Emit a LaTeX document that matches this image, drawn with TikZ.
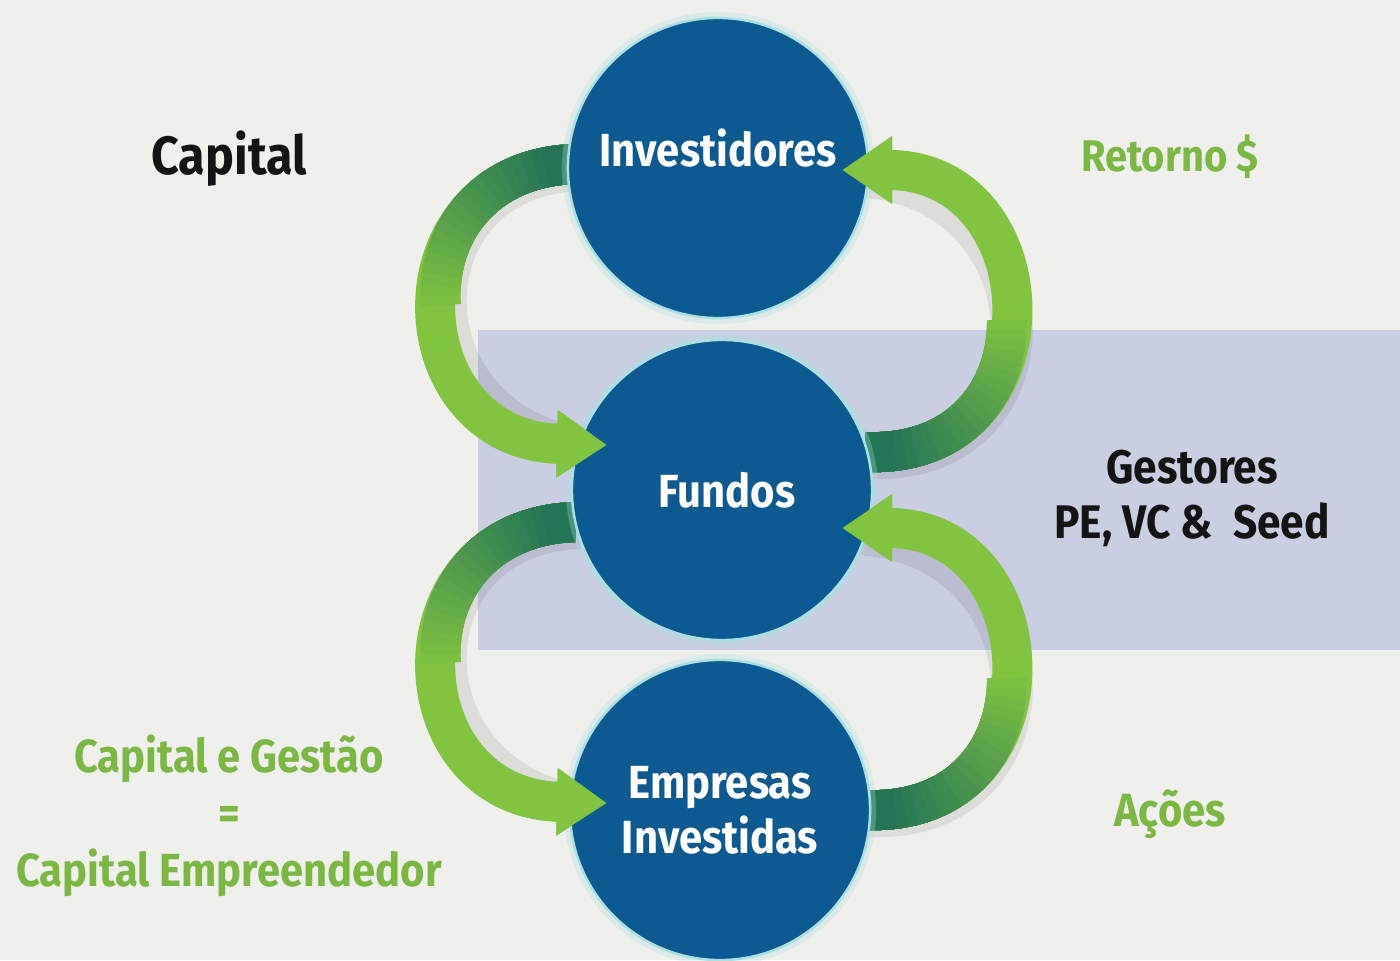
\documentclass[tikz,border=0pt]{standalone}
\usepackage{fontspec}
\setmainfont{Fira Sans}[FakeStretch=0.9]
\usetikzlibrary{arrows.meta,calc}

\pgfdeclarelayer{fundo}
\pgfdeclarelayer{setas}
\pgfdeclarelayer{pontas}
\pgfsetlayers{fundo,setas,main,pontas}

\definecolor{azul}{RGB}{12,90,145}
\definecolor{brilho}{RGB}{170,224,226}
\definecolor{lilas}{RGB}{202,206,226}
\definecolor{papel}{RGB}{239,239,236}
\definecolor{verdeclaro}{RGB}{128,196,64}
\definecolor{verdeescuro}{RGB}{36,116,86}
\definecolor{verdetexto}{RGB}{122,184,66}

\begin{document}
\begin{tikzpicture}
		[
		x=0.01cm, y=0.01cm, >={Triangle[width=0.64cm,length=0.5cm]},
		%Voreinstellungen
		bolha/.style={circle, fill=azul, draw=brilho, line width=0.025cm, minimum size=3.0cm, inner sep=0pt, text=white, align=center, font=\fontsize{13.2}{15.6}\selectfont\bfseries, preaction={draw=brilho, line width=0.12cm, opacity=0.3}},
		seta/.style={->, line width=0.4cm, color=verdeclaro},
		preto/.style={anchor=base, text=black!92},
		verde/.style={anchor=base, text=verdetexto}
		]
		
		\useasboundingbox (0,0) rectangle (1400,960);
		
		%Hintergrund
		\begin{pgfonlayer}{fundo}
		\fill [papel] (0,0) rectangle (1400,960);
		\fill [lilas] (478,310) rectangle (1400,630);
		\end{pgfonlayer}
		
		%Kreise
		\node [bolha, label={[text=white, font=\fontsize{13.2}{15.6}\selectfont\bfseries, yshift=0.2cm]center:Investidores}] (inv) at (718,792) {};
		\node [bolha, label={[text=white, font=\fontsize{13.2}{15.6}\selectfont\bfseries, xshift=0.05cm]center:Fundos}] (fun) at (722,470) {};
		\node [bolha] (emp) at (720,150) {Empresas\\Investidas};
		
		%Anfang und Spitze der Pfeile
		\coordinate (a1) at ($(inv.center)+(-143,4)$);
		\coordinate (b1) at ($(fun.center)+(-115,45)$);
		\coordinate (a2) at ($(fun.center)+(143,38)$);
		\coordinate (b2) at ($(inv.center)+(124,-2)$);
		\coordinate (a3) at ($(fun.center)+(-147,-32)$);
		\coordinate (b3) at ($(emp.center)+(-113,7)$);
		\coordinate (a4) at ($(emp.center)+(145,0)$);
		\coordinate (b4) at ($(fun.center)+(120,-38)$);
		
		%Pfeile hinter den Kreisen
		\begin{pgfonlayer}{setas}
		\foreach \a/\b/\ux/\uy/\vx/\vy in {a1/b1/-188/-6/-212/5, a2/b2/198/-8/210/0, a3/b3/-188/-6/-212/5, a4/b4/198/-8/210/0}
		{
			\draw [line width=0.42cm, black, opacity=0.08, transform canvas={xshift=0.05cm, yshift=-0.06cm}] (\a) .. controls +(\ux,\uy) and +(\vx,\vy) .. (\b);
			\draw [seta] (\a) .. controls +(\ux,\uy) and +(\vx,\vy) .. (\b);
			\foreach \k in {1,...,20}
			{
				\pgfmathsetmacro\len{(21-\k)*0.1+0.2}
				\pgfmathtruncatemacro\mix{\k*5}
				\draw [line width=0.4cm, verdeescuro!\mix!verdeclaro, dash pattern=on \len cm off 30cm] (\a) .. controls +(\ux,\uy) and +(\vx,\vy) .. (\b);
			}
		}
		\end{pgfonlayer}
		
		%Spitzen vor den Kreisen
		\begin{pgfonlayer}{pontas}
		\foreach \a/\b/\ux/\uy/\vx/\vy in {a1/b1/-188/-6/-212/5, a2/b2/198/-8/210/0, a3/b3/-188/-6/-212/5, a4/b4/198/-8/210/0}
		\draw [seta, dash pattern=on 0pt off 30cm] (\a) .. controls +(\ux,\uy) and +(\vx,\vy) .. (\b);
		\end{pgfonlayer}
		
		%Texte
		\node [preto, font=\fontsize{15.3}{18}\selectfont\bfseries] (capital) at (229,785) {Capital};
		\node [verde, font=\fontsize{12.6}{15}\selectfont\bfseries] (retorno) at (1170,788) {Retorno \$};
		\node [preto, font=\fontsize{13.4}{16}\selectfont\bfseries] (gestores) at (1192,477) {Gestores};
		\node [preto, font=\fontsize{13.4}{16}\selectfont\bfseries] (tipos) at (1192,422) {PE, VC \&\ \ Seed};
		\node [verde, font=\fontsize{13.2}{15}\selectfont\bfseries] (acoes) at (1170,134) {Ações};
		\node [verde, font=\fontsize{13.2}{16}\selectfont\bfseries] (capgest) at (229,188) {Capital e Gestão};
		\node [verde, font=\fontsize{13.2}{16}\selectfont\bfseries] (igual) at (229,131) {=};
		\node [verde, font=\fontsize{13.2}{16}\selectfont\bfseries] (capemp) at (229,74) {Capital Empreendedor};
	\end{tikzpicture}
\end{document}
